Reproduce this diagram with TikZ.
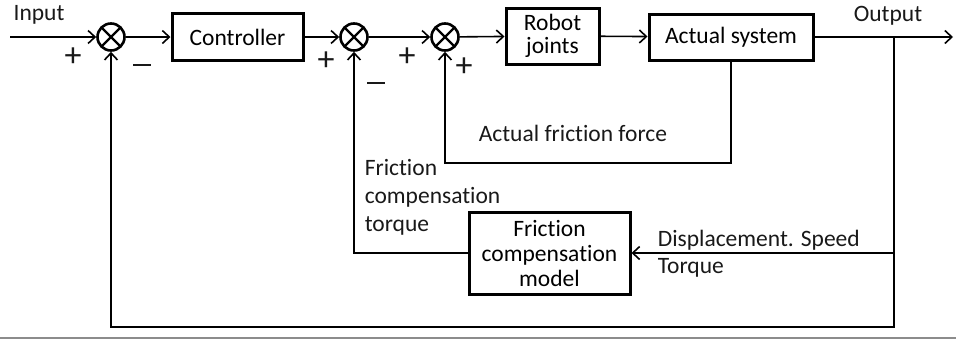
\documentclass[tikz,border=0pt]{standalone}
\usepackage{fontspec}
\setmainfont[Ligatures=NoCommon]{Carlito}
\usetikzlibrary{arrows.meta}
\begin{document}
\begin{tikzpicture}[x=1pt,y=-1pt,
  font=\fontsize{23.5}{28}\selectfont,
  line width=1.6pt,
  >={Straight Barb[length=7pt,width=13pt,line width=1.6pt]},
  blk/.style={draw,line width=3pt,rectangle,inner sep=0pt,align=center},
  sumnode/.style={draw,circle,line width=2.6pt,minimum size=27pt,inner sep=0pt,
    path picture={\draw[line width=2.4pt] (path picture bounding box.north west)--(path picture bounding box.south east)
      (path picture bounding box.north east)--(path picture bounding box.south west);}},
  lbl/.style={inner sep=0pt,text=black!90},
  sgn/.style={inner sep=0pt,text=black!90,font=\fontsize{34}{34}\selectfont}]
\useasboundingbox (0,0) rectangle (956,341);
% blocks
\node[sumnode] (s1) at (111,37) {};
\node[sumnode] (s2) at (354,37) {};
\node[sumnode] (s3) at (445,37) {};
\node[blk,minimum width=131pt,minimum height=47pt] (ctrl) at (237.5,37) {Controller};
\node[blk,minimum width=93pt,minimum height=56pt] (robot) at (552.5,36) {Robot\\[-5pt]joints};
\node[blk,minimum width=164pt,minimum height=46pt] (act) at (731,37) {Actual system};
\node[blk,minimum width=161pt,minimum height=82pt] (fcm) at (549.5,253) {Friction\\[-3pt]compensation\\[-3pt]model};
% coordinates
\coordinate (in) at (10,37);
\coordinate (out) at (953,37);
\coordinate (tap) at (894,37);
\coordinate (tapb) at (894,327);
\coordinate (tapm) at (894,253);
\coordinate (lf) at (445,163);
% connectors
\draw[->] (in) -- (s1);
\draw[->] (s1) -- (ctrl);
\draw[->] (ctrl) -- (s2);
\draw[->] (s2) -- (s3);
\draw[->] (s3) -- (robot);
\draw[->] (robot) -- (act);
\draw[->] (act) -- (out);
\draw[->] (tap) -- (tapb) -| (s1.south);
\draw[->] (tapm) -- (fcm.east);
\draw[->] (fcm.west) -| (s2.south);
\draw[->] (act.south) |- (lf) -- (s3.south);
% labels
\node[lbl] (tin) at (39,15) {Input};
\node[lbl] (tout) at (888,16) {Output};
\node[sgn] (p1) at (73,57) {+};
\node[lbl] (m1) at (142,65) {\rule{18pt}{2.2pt}};
\node[sgn] (p2) at (326,61) {+};
\node[lbl] (m2) at (376,83) {\rule{18pt}{2.2pt}};
\node[sgn] (p3) at (407,57) {+};
\node[sgn] (p4) at (464,67) {+};
\node[lbl,anchor=west] (taf) at (478,133) {Actual friction force};
\node[lbl,anchor=west,align=left] (tfct) at (364,197) {Friction\\compensation\\torque};
\node[lbl,anchor=west] (tds) at (657,240) {Displacement. Speed};
\node[lbl,anchor=west] (ttq) at (657,268) {Torque};
% bottom rule
\draw[line width=2pt,black!45] (0,338) -- (956,338);
\end{tikzpicture}
\end{document}
